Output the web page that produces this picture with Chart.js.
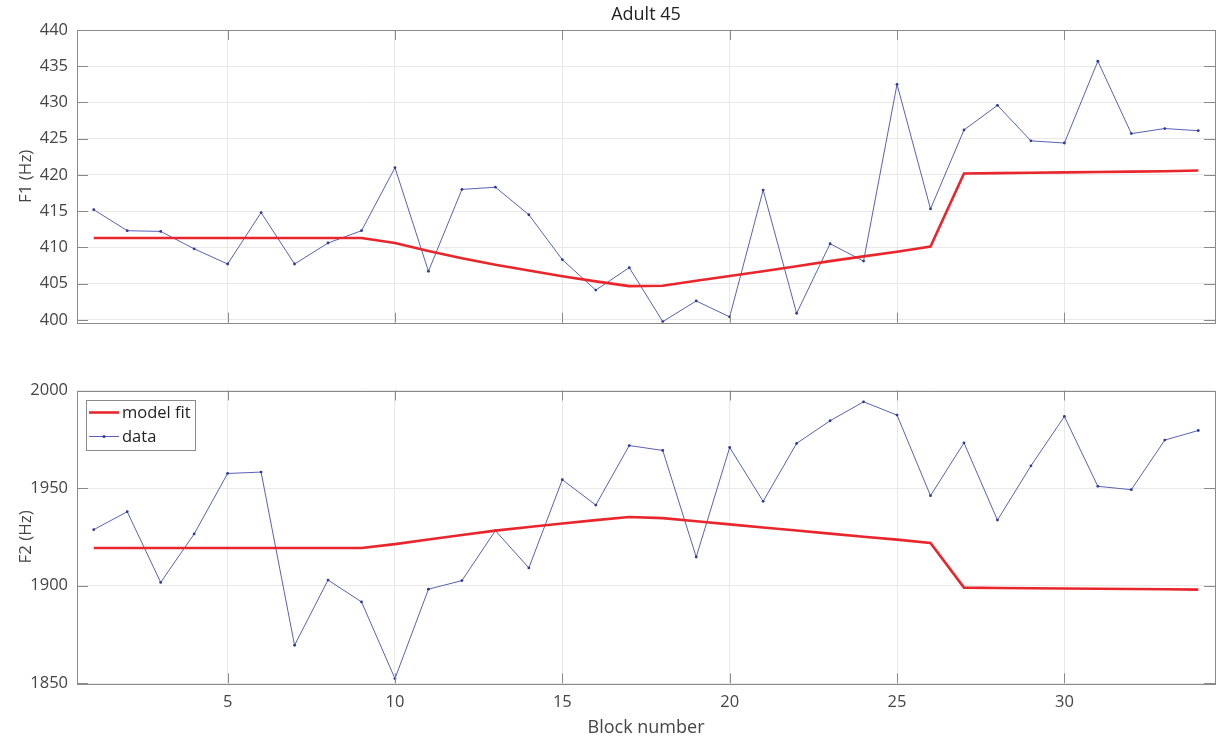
<!DOCTYPE html>
<html>
<head>
<meta charset="utf-8">
<title>Adult 45</title>
<script src="https://cdn.jsdelivr.net/npm/chart.js@4/dist/chart.umd.min.js"></script>
<style>
    html, body { margin: 0; padding: 0; background: #fff; }
    #wrap { position: relative; width: 1219px; height: 740px; }
    #f1Chart { position: absolute; left: 0; top: 0; }
    #f2Chart { position: absolute; left: 0; top: 360px; }
</style>
</head>
<body>
<div id="wrap">
    <canvas id="f1Chart" width="1219" height="345"></canvas>
    <canvas id="f2Chart" width="1219" height="380"></canvas>
</div>
<script>
// block numbers (x axis)
const blocks = [1, 2, 3, 4, 5, 6, 7, 8, 9, 10, 11, 12, 13, 14, 15, 16, 17,
    18, 19, 20, 21, 22, 23, 24, 25, 26, 27, 28, 29, 30, 31, 32, 33, 34];

// F1 (Hz)
const f1Data = [415.2, 412.3, 412.2, 409.8, 407.7, 414.8, 407.7, 410.6, 412.3, 421.0,
    406.7, 418.0, 418.3, 414.5, 408.3, 404.1, 407.2, 399.75, 402.6, 400.4,
    417.9, 400.9, 410.5, 408.1, 432.5, 415.3, 426.2, 429.6, 424.7, 424.4,
    435.7, 425.7, 426.4, 426.1];
const f1Fit = [411.3, 411.3, 411.3, 411.3, 411.3, 411.3, 411.3, 411.3, 411.3, 410.6,
    409.5, 408.5, 407.6, 406.8, 406.0, 405.3, 404.65, 404.7, 405.4, 406.05,
    406.7, 407.4, 408.1, 408.75, 409.4, 410.1, 420.2, 420.25, 420.3, 420.35,
    420.4, 420.45, 420.5, 420.6];

// F2 (Hz)
const f2Data = [1928.7, 1937.9, 1901.7, 1926.5, 1957.5, 1958.2, 1869.5, 1902.9, 1891.7, 1852.4,
    1898.2, 1902.6, 1928.2, 1909.1, 1954.3, 1941.3, 1971.8, 1969.3, 1914.7, 1970.8,
    1943.2, 1972.9, 1984.5, 1994.2, 1987.4, 1946.1, 1973.2, 1933.6, 1961.4, 1986.7,
    1950.9, 1949.2, 1974.6, 1979.5];
const f2Fit = [1919.3, 1919.3, 1919.3, 1919.3, 1919.3, 1919.3, 1919.3, 1919.3, 1919.3, 1921.3,
    1923.7, 1926.0, 1928.2, 1930.1, 1931.9, 1933.6, 1935.2, 1934.6, 1933.0, 1931.4,
    1929.8, 1928.3, 1926.7, 1925.1, 1923.6, 1921.9, 1899.0, 1898.85, 1898.7, 1898.6,
    1898.45, 1898.3, 1898.2, 1898.0];

const xTicks = [5, 10, 15, 20, 25, 30];
const f1Range = [399.6, 440];
const f2Range = [1850, 2000];

const RED = '#e8262c';
const BLUE = '#5862b4';
const BLUE_DOT = '#2b3a9c';
const BOX = '#8a8a8a';
const GRID = '#e9e9e9';
const TEXT = '#454545';

Chart.defaults.font.family = "'Open Sans', sans-serif";
Chart.defaults.color = TEXT;

function toPoints(values) {
    return blocks.map((b, i) => ({ x: b, y: values[i] }));
}

// box around the axes plus inward tick marks on all four sides
const matlabBox = {
    id: 'matlabBox',
    afterDatasetsDraw(chart) {
        const ctx = chart.ctx;
        const a = chart.chartArea;
        const xs = chart.scales.x;
        const ys = chart.scales.y;
        ctx.save();
        ctx.strokeStyle = BOX;
        ctx.lineWidth = 1;
        ctx.beginPath();
        xs.ticks.forEach(t => {
            const px = Math.round(xs.getPixelForValue(t.value)) + 0.5;
            ctx.moveTo(px, a.bottom);
            ctx.lineTo(px, a.bottom - 10);
            ctx.moveTo(px, a.top);
            ctx.lineTo(px, a.top + 10);
        });
        ys.ticks.forEach(t => {
            const py = Math.round(ys.getPixelForValue(t.value)) + 0.5;
            ctx.moveTo(a.left, py);
            ctx.lineTo(a.left + 11, py);
            ctx.moveTo(a.right, py);
            ctx.lineTo(a.right - 11, py);
        });
        ctx.stroke();
        ctx.strokeRect(Math.round(a.left) + 0.5, Math.round(a.top) + 0.5,
            Math.round(a.right - a.left), Math.round(a.bottom - a.top));
        ctx.restore();
    }
};

// legend box in the upper-left corner of the F2 panel
const cornerLegend = {
    id: 'cornerLegend',
    afterDraw(chart) {
        const ctx = chart.ctx;
        const a = chart.chartArea;
        const x0 = a.left + 9, y0 = a.top + 9;
        const w = 109, h = 50;
        ctx.save();
        ctx.fillStyle = '#fff';
        ctx.fillRect(x0, y0, w, h);
        ctx.strokeStyle = BOX;
        ctx.lineWidth = 1;
        ctx.strokeRect(Math.round(x0) + 0.5, Math.round(y0) + 0.5, w, h);

        const rows = chart.data.datasets;
        ctx.font = "16.5px 'Open Sans', sans-serif";
        ctx.textBaseline = 'middle';
        rows.forEach((ds, i) => {
            const ly = y0 + 13 + i * 24;
            ctx.strokeStyle = ds.borderColor;
            ctx.lineWidth = ds.borderWidth;
            ctx.beginPath();
            ctx.moveTo(x0 + 3, ly);
            ctx.lineTo(x0 + 33, ly);
            ctx.stroke();
            if (ds.pointRadius > 0) {
                ctx.fillStyle = ds.pointBackgroundColor;
                ctx.beginPath();
                ctx.arc(x0 + 18, ly, 1.5, 0, Math.PI * 2);
                ctx.fill();
            }
            ctx.fillStyle = '#222';
            ctx.fillText(ds.label, x0 + 36, ly + 1);
        });
        ctx.restore();
    }
};

function makeDatasets(fit, data) {
    return [
        {
            label: 'model fit',
            data: toPoints(fit),
            borderColor: RED,
            borderWidth: 2.6,
            pointRadius: 0,
            tension: 0,
            order: 1
        },
        {
            label: 'data',
            data: toPoints(data),
            borderColor: BLUE,
            borderWidth: 1,
            pointRadius: 1.4,
            pointBorderWidth: 0,
            pointBackgroundColor: BLUE_DOT,
            tension: 0,
            order: 2
        }
    ];
}

function makeOptions(yRange, yTitle, yStep, isBottom) {
    return {
        responsive: false,
        animation: false,
        events: [],
        layout: {
            padding: isBottom
                ? { top: 30.5, right: 3.3, bottom: 0, left: 0 }
                : { top: 0, right: 3.3, bottom: 22.3, left: 0 }
        },
        plugins: {
            legend: { display: false },
            tooltip: { enabled: false },
            title: {
                display: !isBottom,
                text: 'Adult 45',
                fullSize: false,
                color: '#222',
                font: { size: 18, weight: 'normal' },
                padding: { top: 4, bottom: 4.4 }
            }
        },
        scales: {
            x: {
                type: 'linear',
                min: 0.5,
                max: 34.5,
                border: { display: false },
                grid: { color: GRID, drawTicks: false },
                afterBuildTicks: s => { s.ticks = xTicks.map(v => ({ value: v })); },
                afterFit: s => { s.height = isBottom ? 56.7 : 0; },
                ticks: {
                    display: isBottom,
                    padding: 9,
                    maxRotation: 0,
                    font: { size: 16.5 },
                    callback: v => String(v)
                },
                title: {
                    display: isBottom,
                    text: 'Block number',
                    font: { size: 18 },
                    padding: { top: 0, bottom: 1.2 }
                }
            },
            y: {
                min: yRange[0],
                max: yRange[1],
                border: { display: false },
                grid: { color: GRID, drawTicks: false },
                afterFit: s => { s.width = 77; },
                ticks: {
                    stepSize: yStep,
                    includeBounds: false,
                    padding: 9,
                    font: { size: 16.5 },
                    callback: v => String(v)
                },
                title: {
                    display: true,
                    text: yTitle,
                    font: { size: 17 },
                    padding: { top: 16, bottom: 0 }
                }
            }
        }
    };
}

new Chart(document.getElementById('f1Chart'), {
    type: 'line',
    data: { datasets: makeDatasets(f1Fit, f1Data) },
    options: makeOptions(f1Range, 'F1 (Hz)', 5, false),
    plugins: [matlabBox]
});

new Chart(document.getElementById('f2Chart'), {
    type: 'line',
    data: { datasets: makeDatasets(f2Fit, f2Data) },
    options: makeOptions(f2Range, 'F2 (Hz)', 50, true),
    plugins: [matlabBox, cornerLegend]
});
</script>
</body>
</html>
